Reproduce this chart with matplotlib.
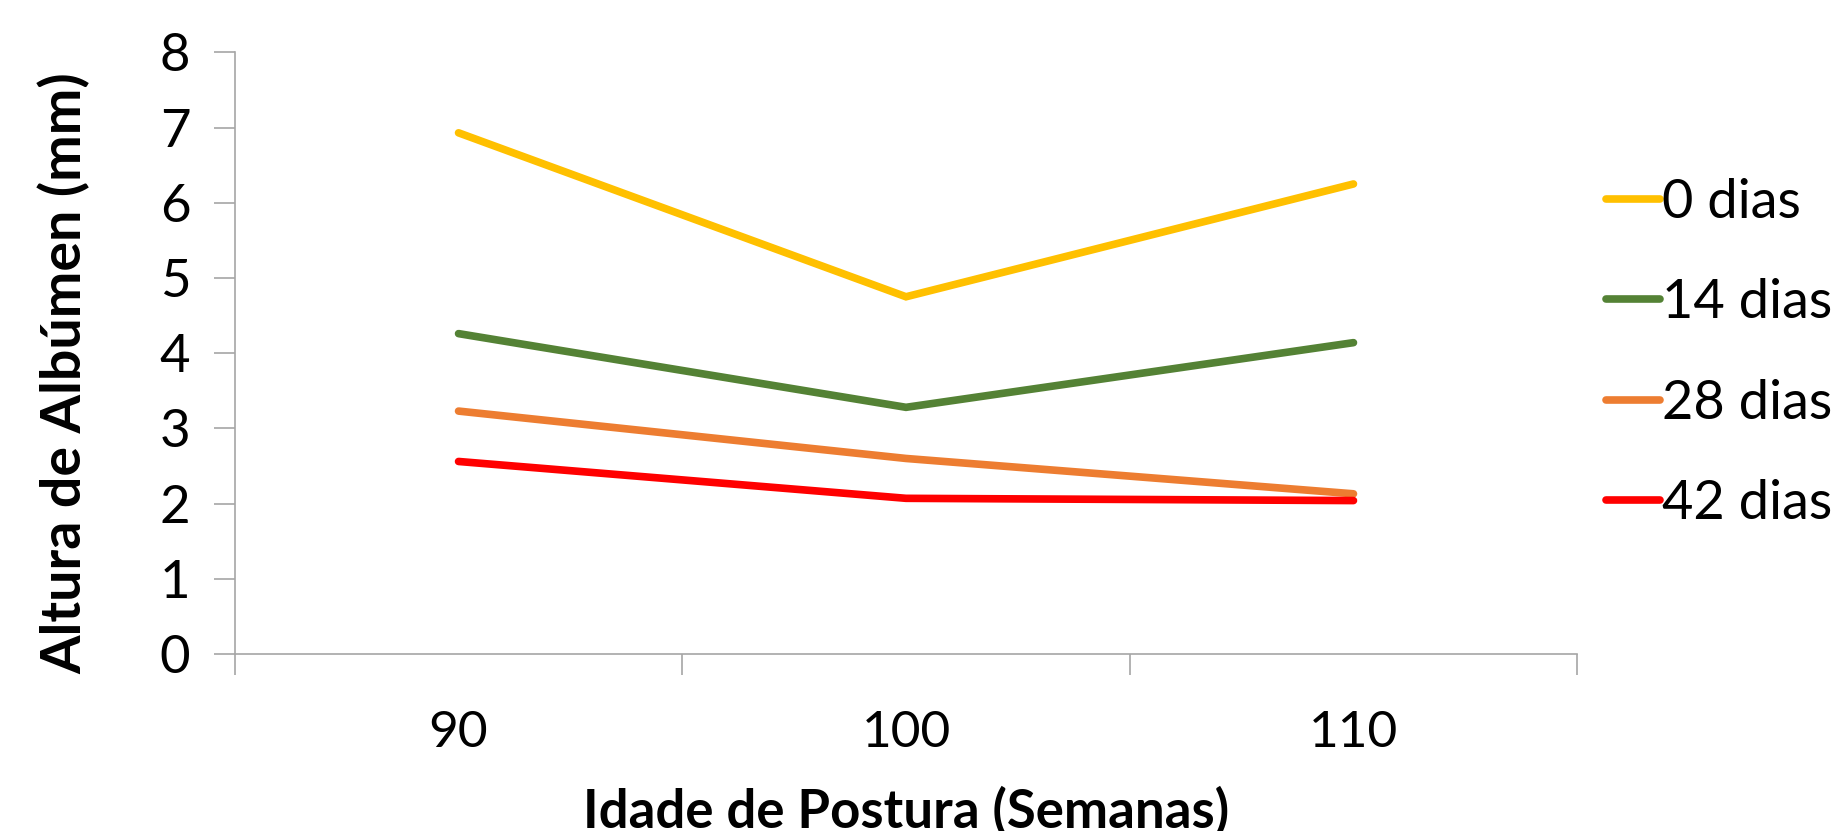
import matplotlib
matplotlib.use("Agg")
import matplotlib.pyplot as plt
import numpy as np

plt.rcParams["font.family"] = ["Lato", "DejaVu Sans"]

semanas = ["90", "100", "110"]
series = ["0 dias", "14 dias", "28 dias", "42 dias"]
dias_0 = [6.93, 4.75, 6.25]
dias_14 = [4.26, 3.28, 4.14]
dias_28 = [3.23, 2.60, 2.13]
dias_42 = [2.56, 2.07, 2.04]
cores = ["#FFC000", "#548235", "#ED7D31", "#FF0000"]

fig = plt.figure(figsize=(18.49, 8.31), dpi=100)
ax = fig.add_axes([0.127, 0.213, 0.726, 0.724])

x = np.arange(1, len(semanas) + 1)
for vals, lab, c in zip([dias_0, dias_14, dias_28, dias_42], series, cores):
    ax.plot(x, vals, color=c, lw=5.5, label=lab, solid_capstyle="round", solid_joinstyle="miter")

ax.set_xlim(0.5, len(semanas) + 0.5)
ax.set_ylim(0, 8)
ax.set_yticks(range(0, 9))
ax.tick_params(axis="y", labelsize=38, length=15, width=1.2, color="#A6A6A6", pad=17)

# eixo de categorias: marcas entre categorias, rótulos centrados
ax.set_xticks(np.arange(0.5, len(semanas) + 1, 1))
ax.set_xticklabels([])
ax.set_xticks(x, minor=True)
ax.set_xticklabels(semanas, minor=True)
ax.tick_params(axis="x", which="major", length=15, width=1.2, color="#A6A6A6")
ax.tick_params(axis="x", which="minor", length=0, labelsize=37, pad=40)

for s in ["top", "right"]:
    ax.spines[s].set_visible(False)
for s in ["left", "bottom"]:
    ax.spines[s].set_color("#A6A6A6")
    ax.spines[s].set_linewidth(1.2)

ax.set_ylabel("Altura de Albúmen (mm)", fontsize=40, fontweight="bold", labelpad=50, y=0.466)
ax.set_xlabel("Idade de Postura (Semanas)", fontsize=38, fontweight="bold", labelpad=22)

leg = ax.legend(loc="center left", bbox_to_anchor=(1.005, 0.50), frameon=False, fontsize=39,
                handlelength=1.0, handletextpad=0.05, labelspacing=0.95, borderaxespad=0)

plt.savefig("out.png", dpi=100)
